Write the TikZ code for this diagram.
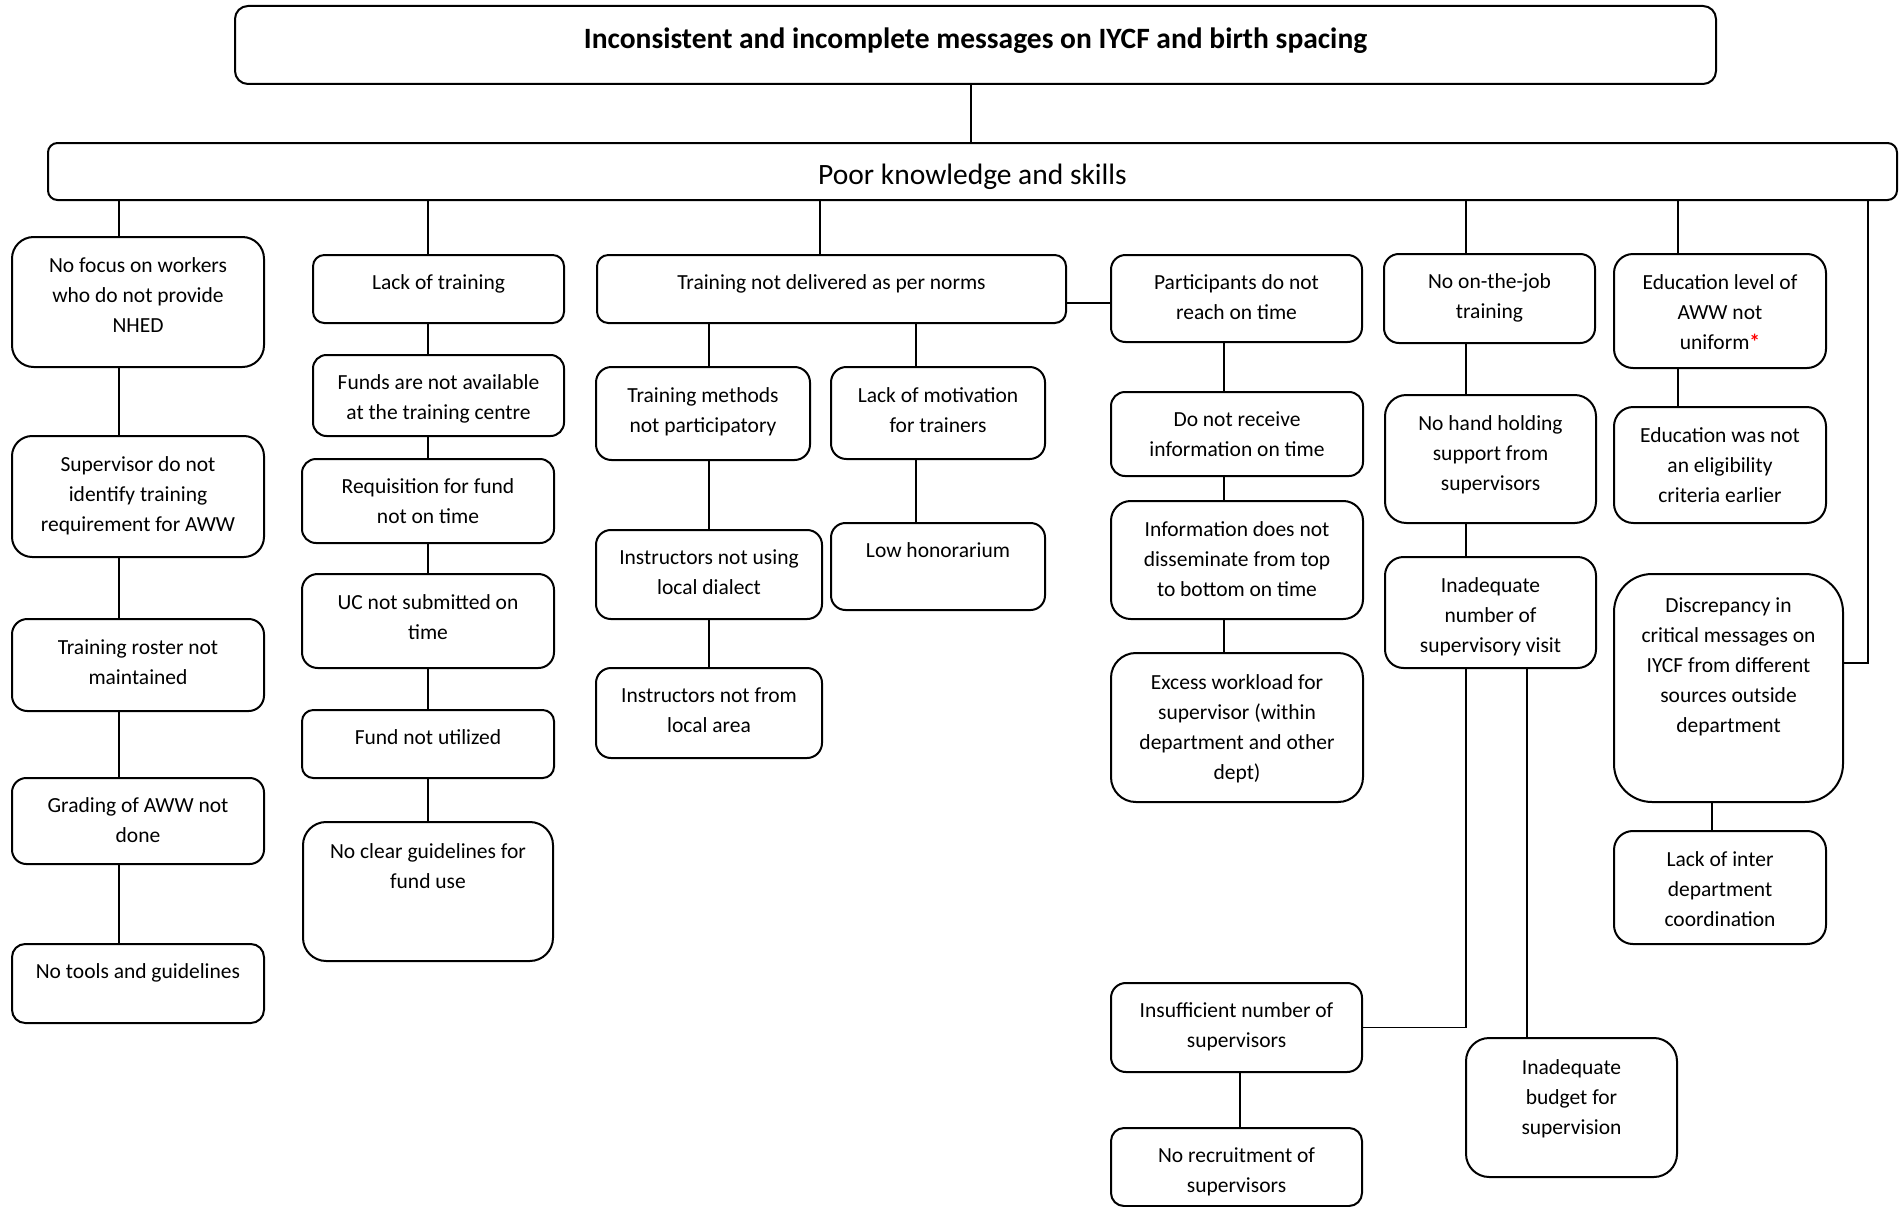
\documentclass[tikz,border=0pt]{standalone}
\usepackage{fontspec}
\setmainfont{Carlito}
\usetikzlibrary{calc}

% box from (x1,y1) to (x2,y2); text hangs from the top edge
\newcommand\causebox[6]{%
  \pgfmathsetmacro\bw{#4-#2}%
  \pgfmathsetmacro\bh{#5-#3}%
  \pgfmathsetmacro\br{0.1667*min(\bw,\bh)}%
  \pgfmathsetmacro\bt{#3+11.5+0.15*\br}%
  \node[cbox, minimum width=\bw pt, minimum height=\bh pt, rounded corners=\br pt] (#1) at ({(#2+#4)/2},{(#3+#5)/2}) {};
  \node[ctext, anchor=north] (#1-t) at ({(#2+#4)/2},\bt) {\strut#6};
}

\tikzset{
  cbox/.style={draw=black, line width=2pt, fill=none, inner sep=0pt, outer sep=0pt},
  ctext/.style={font=\fontsize{21.5}{30}\selectfont, align=center, inner sep=0pt, text=black},
  link/.style={draw=black, line width=1.6pt}
}

\begin{document}
\begin{tikzpicture}[x=1pt, y=-1pt]
\useasboundingbox[fill=white] (0,0) rectangle (1901,1207);

% ---- top levels ----
\node[cbox, minimum width=1481pt, minimum height=78pt, rounded corners=13pt] (top) at (975.5,45) {};
\node[font=\fontsize{29.5}{35}\selectfont\bfseries, anchor=base, inner sep=0pt] (top-t) at (975.5,48.5)
  {Inconsistent and incomplete messages on IYCF and birth spacing};
\node[cbox, minimum width=1849pt, minimum height=57pt, rounded corners=9.5pt] (poor) at (972.5,171.5) {};
\node[font=\fontsize{29.5}{35}\selectfont, anchor=base, inner sep=0pt] (poor-t) at (972.5,184)
  {Poor knowledge and skills};

% ---- column 1 ----
\causebox{nofocus}{12}{237}{264}{367}{No focus on workers\\who do not provide\\NHED}
\causebox{superv}{12}{436}{264}{557}{Supervisor do not\\identify training\\requirement for AWW}
\causebox{roster}{12}{619}{264}{711}{Training roster not\\maintained}
\causebox{grading}{12}{778}{264}{864}{Grading of AWW not\\done}
\causebox{notools}{12}{944}{264}{1023}{No tools and guidelines}

% ---- column 2 ----
\causebox{lacktrain}{313}{255}{564}{323}{Lack of training}
\causebox{funds}{313}{355}{564}{436}{Funds are not available\\at the training centre}
\causebox{requis}{302}{459}{554}{543}{Requisition for fund\\not on time}
\causebox{ucnot}{302}{574}{554}{668}{UC not submitted on\\time}
\causebox{fundnot}{302}{710}{554}{778}{Fund not utilized}
\causebox{noclear}{303}{822}{553}{961}{No clear guidelines for\\fund use}

% ---- column 3 ----
\causebox{notdeliv}{597}{255}{1066}{323}{Training not delivered as per norms}
\causebox{methods}{596}{367}{810}{460}{Training methods\\not participatory}
\causebox{instrusing}{596}{530}{822}{619}{Instructors not using\\local dialect}
\causebox{instrfrom}{596}{668}{822}{758}{Instructors not from\\local area}
\causebox{motiv}{831}{367}{1045}{459}{Lack of motivation\\for trainers}
\causebox{lowhon}{831}{523}{1045}{610}{Low honorarium}

% ---- column 4 ----
\causebox{particip}{1111}{255}{1362}{342}{Participants do not\\reach on time}
\causebox{donot}{1111}{392}{1363}{476}{Do not receive\\information on time}
\causebox{info}{1111}{501}{1363}{619}{Information does not\\disseminate from top\\to bottom on time}
\causebox{excess}{1111}{653}{1363}{802}{Excess workload for\\supervisor (within\\department and other\\dept)}
\causebox{insuff}{1111}{983}{1362}{1072}{Insufficient number of\\supervisors}
\causebox{norecruit}{1111}{1128}{1362}{1206}{No recruitment of\\supervisors}

% ---- column 5 ----
\causebox{onjob}{1384}{254}{1595}{343}{No on-the-job\\training}
\causebox{handhold}{1385}{395}{1596}{523}{No hand holding\\support from\\supervisors}
\causebox{inadnum}{1385}{557}{1596}{668}{Inadequate\\number of\\supervisory visit}
\causebox{budget}{1466}{1038}{1677}{1177}{Inadequate\\budget for\\supervision}

% ---- column 6 ----
\causebox{edulevel}{1614}{254}{1826}{368}{Education level of\\AWW not\\uniform{\color{red}\bfseries *}}
\causebox{eduwas}{1614}{407}{1826}{523}{Education was not\\an eligibility\\criteria earlier}
\causebox{discrep}{1614}{574}{1843}{802}{Discrepancy in\\critical messages on\\IYCF from different\\sources outside\\department}
\causebox{lackinter}{1614}{831}{1826}{944}{Lack of inter\\department\\coordination}

% ---- connector columns and rows ----
\coordinate (cTop) at (971,0);
\coordinate (cA) at (119,0);
\coordinate (cB) at (428,0);
\coordinate (cC) at (820,0);
\coordinate (cD) at (709,0);
\coordinate (cE) at (916,0);
\coordinate (cF) at (1224,0);
\coordinate (cG) at (1466,0);
\coordinate (cH) at (1527,0);
\coordinate (cI) at (1678,0);
\coordinate (cJ) at (1868,0);
\coordinate (cK) at (1712,0);
\coordinate (cL) at (1240,0);
\coordinate (rowP) at (0,303);
\coordinate (rowD) at (0,663);

% ---- connectors ----
\draw[link] (top.south -| cTop) -- (poor.north -| cTop);

\draw[link] (poor.south -| cA) -- (nofocus.north -| cA);
\draw[link] (nofocus.south -| cA) -- (superv.north -| cA);
\draw[link] (superv.south -| cA) -- (roster.north -| cA);
\draw[link] (roster.south -| cA) -- (grading.north -| cA);
\draw[link] (grading.south -| cA) -- (notools.north -| cA);

\draw[link] (poor.south -| cB) -- (lacktrain.north -| cB);
\draw[link] (lacktrain.south -| cB) -- (funds.north -| cB);
\draw[link] (funds.south -| cB) -- (requis.north -| cB);
\draw[link] (requis.south -| cB) -- (ucnot.north -| cB);
\draw[link] (ucnot.south -| cB) -- (fundnot.north -| cB);
\draw[link] (fundnot.south -| cB) -- (noclear.north -| cB);

\draw[link] (poor.south -| cC) -- (notdeliv.north -| cC);
\draw[link] (notdeliv.south -| cD) -- (methods.north -| cD);
\draw[link] (methods.south -| cD) -- (instrusing.north -| cD);
\draw[link] (instrusing.south -| cD) -- (instrfrom.north -| cD);
\draw[link] (notdeliv.south -| cE) -- (motiv.north -| cE);
\draw[link] (motiv.south -| cE) -- (lowhon.north -| cE);

\draw[link, line width=2pt] (notdeliv.east |- rowP) -- (particip.west |- rowP);
\draw[link] (particip.south -| cF) -- (donot.north -| cF);
\draw[link] (donot.south -| cF) -- (info.north -| cF);
\draw[link] (info.south -| cF) -- (excess.north -| cF);
\draw[link] (insuff.south -| cL) -- (norecruit.north -| cL);

\draw[link] (poor.south -| cG) -- (onjob.north -| cG);
\draw[link] (onjob.south -| cG) -- (handhold.north -| cG);
\draw[link] (handhold.south -| cG) -- (inadnum.north -| cG);
\draw[link] (inadnum.south -| cG) |- (insuff.east);
\draw[link] (inadnum.south -| cH) -- (budget.north -| cH);

\draw[link] (poor.south -| cI) -- (edulevel.north -| cI);
\draw[link] (edulevel.south -| cI) -- (eduwas.north -| cI);
\draw[link] (poor.south -| cJ) |- (discrep.east |- rowD);
\draw[link] (discrep.south -| cK) -- (lackinter.north -| cK);
\end{tikzpicture}
\end{document}
